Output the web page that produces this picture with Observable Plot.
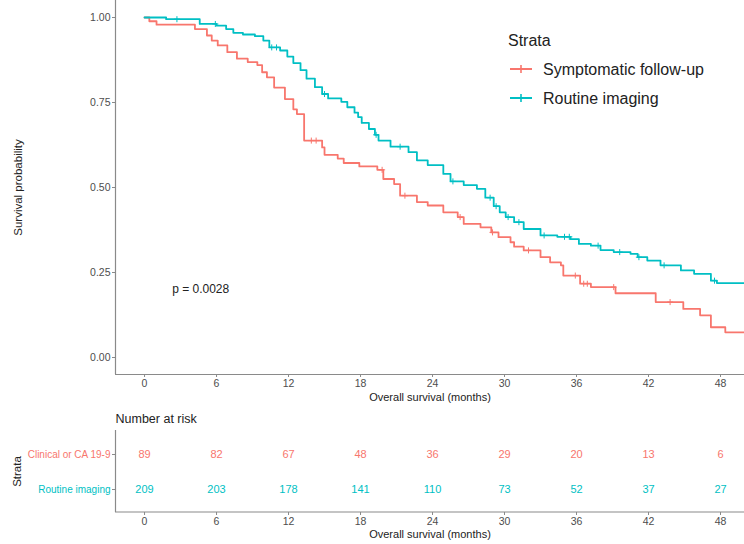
<!DOCTYPE html>
<html>
<head>
<meta charset="utf-8">
<script src="https://cdn.jsdelivr.net/npm/d3@7"></script>
<script src="https://cdn.jsdelivr.net/npm/@observablehq/plot@0.6"></script>
<style>
  body { margin: 0; background: #fff; }
  #chart { position: relative; width: 744px; height: 544px; overflow: hidden;
           font-family: "Liberation Sans", Arial, Helvetica, sans-serif; background: #fff; }
  #chart svg { display: block; }
  #legend { position: absolute; left: 0; top: 0; pointer-events: none; }
</style>
</head>
<body>
<div id="chart"></div>
<script>
// ---------------- data ----------------
const strata = ["Symptomatic follow-up", "Routine imaging"];
const tableStrata = ["Clinical or CA 19-9", "Routine imaging"];
const strataColors = ["#F8766D", "#00BFC4"];

const timeTicks = [0, 6, 12, 18, 24, 30, 36, 42, 48];
const survTicks = [0, 0.25, 0.5, 0.75, 1];

// Kaplan-Meier step curve: Symptomatic follow-up
const symptomaticTime = [0, 0.4, 1.0, 4.2, 5.2, 5.6, 6.1, 6.9, 7.7, 8.6, 9.4, 9.8, 10.2, 10.8, 11.7, 12.4, 12.7, 13.3,
  14.8, 15.0, 16.1, 16.6, 17.9, 19.4, 19.9, 20.8, 21.3, 22.7, 23.6, 24.9, 26.1, 26.6, 28.0, 28.9, 29.5, 30.5, 30.8,
  31.6, 33.0, 33.8, 34.7, 34.9, 36.3, 37.2, 39.25, 42.6, 44.9, 46.3, 47.2, 48.4];
const symptomaticSurv = [1, 0.989, 0.979, 0.966, 0.947, 0.932, 0.918, 0.898, 0.879, 0.869, 0.86, 0.839, 0.824, 0.794, 0.76, 0.73, 0.716, 0.638,
  0.618, 0.596, 0.585, 0.572, 0.562, 0.552, 0.525, 0.51, 0.476, 0.457, 0.447, 0.427, 0.413, 0.393, 0.383, 0.368, 0.354, 0.339, 0.326,
  0.315, 0.295, 0.28, 0.271, 0.241, 0.217, 0.207, 0.189, 0.163, 0.143, 0.124, 0.089, 0.074];
const symptomaticCensor = [13.9, 14.3, 19.8, 21.7, 26.3, 29.0, 32.0, 35.9, 36.6, 36.9, 39.1, 43.8];

// Kaplan-Meier step curve: Routine imaging
const routineTime = [0, 1.8, 4.6, 6.0, 6.8, 7.4, 8.2, 9.2, 9.9, 10.4, 11.3, 11.9, 12.4, 13.0, 13.5, 14.2, 14.8, 15.3, 16.4,
  16.9, 17.5, 17.8, 18.1, 18.7, 19.2, 19.5, 20.5, 22.0, 22.7, 23.6, 24.9, 25.5, 26.6, 27.7, 28.4, 29.1, 29.6, 30.1, 30.8,
  31.6, 33.0, 34.4, 35.5, 36.2, 37.2, 38.0, 39.1, 40.5, 41.1, 41.9, 43.0, 44.7, 45.8, 47.2, 47.7];
const routineSurv = [1, 0.995, 0.981, 0.976, 0.966, 0.955, 0.95, 0.945, 0.932, 0.912, 0.903, 0.885, 0.866, 0.845, 0.82, 0.795, 0.775, 0.762, 0.752,
  0.736, 0.72, 0.707, 0.69, 0.672, 0.655, 0.638, 0.62, 0.604, 0.58, 0.566, 0.54, 0.518, 0.507, 0.496, 0.47, 0.445, 0.427, 0.413, 0.398,
  0.378, 0.359, 0.355, 0.348, 0.334, 0.329, 0.316, 0.31, 0.305, 0.295, 0.285, 0.271, 0.256, 0.246, 0.226, 0.219];
const routineCensor = [2.7, 5.9, 10.6, 11.0, 15.0, 19.3, 21.3, 25.7, 28.8, 29.3, 30.3, 31.2, 33.3, 35.0, 35.4, 37.8, 39.6, 41.2, 43.3, 47.5];

// Number at risk
const atRiskSymptomatic = [89, 82, 67, 48, 36, 29, 20, 13, 6];
const atRiskRoutine = [209, 203, 178, 141, 110, 73, 52, 37, 27];

const followUpEnd = 51;
const pValueLabel = "p = 0.0028";
const pValueAt = {x: 2.3, y: 0.2};

const xTitle = "Overall survival (months)";
const yTitle = "Survival probability";
const tableTitle = "Number at risk";
const tableYTitle = "Strata";
const legendTitle = "Strata";

// ---------------- build tables ----------------
function stepRows(times, surv, name) {
  const rows = times.map((t, i) => ({time: t, surv: surv[i], strata: name}));
  rows.push({time: followUpEnd, surv: surv[surv.length - 1], strata: name});
  return rows;
}
function censorRows(censor, times, surv, name) {
  return censor.map(t => {
    const i = d3.bisectRight(times, t) - 1;
    return {time: t, surv: surv[Math.max(0, i)], strata: name};
  });
}
const curves = [
  ...stepRows(symptomaticTime, symptomaticSurv, strata[0]),
  ...stepRows(routineTime, routineSurv, strata[1])
];
const censors = [
  ...censorRows(symptomaticCensor, symptomaticTime, symptomaticSurv, strata[0]),
  ...censorRows(routineCensor, routineTime, routineSurv, strata[1])
];
const riskRows = [
  ...timeTicks.map((t, i) => ({time: t, n: atRiskSymptomatic[i], strata: tableStrata[0]})),
  ...timeTicks.map((t, i) => ({time: t, n: atRiskRoutine[i], strata: tableStrata[1]}))
];

const xDomain = [-2.42, 50];
const yDomain = [-0.05, 1.05];
const font = '"Liberation Sans", Arial, Helvetica, sans-serif';
const axisColor = "#8a8a8a";
const tickText = "#4d4d4d";
const colorScale = {domain: strata, range: strataColors};
const tableColor = d => strataColors[tableStrata.indexOf(d)];

// ---------------- main KM plot ----------------
const main = Plot.plot({
  width: 744, height: 405,
  marginLeft: 115, marginRight: 0, marginTop: 0, marginBottom: 31,
  style: {fontFamily: font, fontSize: "10.5px", color: tickText, background: "#fff", overflow: "visible"},
  x: {domain: xDomain},
  y: {domain: yDomain},
  color: colorScale,
  marks: [
    Plot.axisY(survTicks, {tickFormat: d => d.toFixed(2), tickSize: 3, tickPadding: 2, label: null, stroke: axisColor, fill: tickText}),
    Plot.axisX(timeTicks, {tickFormat: d => String(d), tickSize: 3, tickPadding: 2, label: null, stroke: axisColor, fill: tickText}),
    Plot.ruleX([xDomain[0]], {stroke: axisColor, strokeWidth: 1.2}),
    Plot.ruleY([yDomain[0]], {stroke: axisColor, strokeWidth: 1.2}),
    Plot.line(curves, {x: "time", y: "surv", z: "strata", stroke: "strata", curve: "step-after", strokeWidth: 1.8, clip: true}),
    Plot.dot(censors, {x: "time", y: "surv", stroke: "strata", symbol: "plus", r: 2.1, strokeWidth: 1}),
    Plot.text([pValueLabel], {x: () => pValueAt.x, y: () => pValueAt.y, text: d => d, textAnchor: "start", fontSize: 12, fill: "#222"}),
    Plot.text([xTitle], {frameAnchor: "bottom", dy: 23, lineAnchor: "middle", textAnchor: "middle", text: d => d, fontSize: 11, fill: "#222"}),
    Plot.text([yTitle], {frameAnchor: "left", dx: -97, rotate: -90, textAnchor: "middle", lineAnchor: "middle", text: d => d, fontSize: 11.5, fill: "#222"})
  ]
});

// ---------------- risk table ----------------
const table = Plot.plot({
  width: 744, height: 139,
  marginLeft: 115, marginRight: 0, marginTop: 25, marginBottom: 32,
  style: {fontFamily: font, fontSize: "10.5px", color: tickText, background: "#fff", overflow: "visible"},
  x: {domain: xDomain},
  y: {type: "point", domain: tableStrata, padding: 0.64},
  marks: [
    Plot.axisX(timeTicks, {tickFormat: d => String(d), tickSize: 3, tickPadding: 2, label: null, stroke: axisColor, fill: tickText}),
    Plot.axisY({tickSize: 3, tickFormat: () => "", label: null, stroke: axisColor}),
    Plot.ruleX([xDomain[0]], {stroke: axisColor, strokeWidth: 1.2}),
    Plot.text(tableStrata, {y: d => d, frameAnchor: "left", dx: -5, textAnchor: "end", lineAnchor: "middle", text: d => d, fill: tableColor, fontSize: 10}),
    Plot.text(riskRows, {x: "time", y: "strata", text: d => String(d.n), fill: d => tableColor(d.strata), fontSize: 11}),
    Plot.text([tableTitle], {frameAnchor: "top-left", dy: -12, textAnchor: "start", lineAnchor: "middle", text: d => d, fontSize: 12.5, fill: "#222"}),
    Plot.text([tableYTitle], {frameAnchor: "left", dx: -98, rotate: -90, textAnchor: "middle", lineAnchor: "middle", text: d => d, fontSize: 11.5, fill: "#222"}),
    Plot.text([xTitle], {frameAnchor: "bottom", dy: 22, textAnchor: "middle", lineAnchor: "middle", text: d => d, fontSize: 11, fill: "#222"})
  ]
});
const chart = document.getElementById("chart");
chart.appendChild(main);
chart.appendChild(table);
// bottom axis line for the table
d3.select(table).append("line")
  .attr("x1", 115).attr("x2", 744).attr("y1", 107).attr("y2", 107)
  .attr("stroke", axisColor).attr("stroke-width", 1.2);

// ---------------- legend ----------------
const leg = d3.select(chart).append("svg").attr("id", "legend")
  .attr("width", 744).attr("height", 544)
  .style("font-family", font);
leg.append("text").attr("x", 508).attr("y", 46).attr("font-size", 16).attr("fill", "#222").text(legendTitle);
strata.forEach((s, i) => {
  const cy = 69 + i * 29;
  const g = leg.append("g");
  g.append("line").attr("x1", 510).attr("x2", 532).attr("y1", cy).attr("y2", cy)
    .attr("stroke", strataColors[i]).attr("stroke-width", 2);
  g.append("line").attr("x1", 521).attr("x2", 521).attr("y1", cy - 4).attr("y2", cy + 4)
    .attr("stroke", strataColors[i]).attr("stroke-width", 1.6);
  g.append("text").attr("x", 543).attr("y", cy + 5.5).attr("font-size", 16).attr("fill", "#222").text(s);
});
</script>
</body>
</html>
